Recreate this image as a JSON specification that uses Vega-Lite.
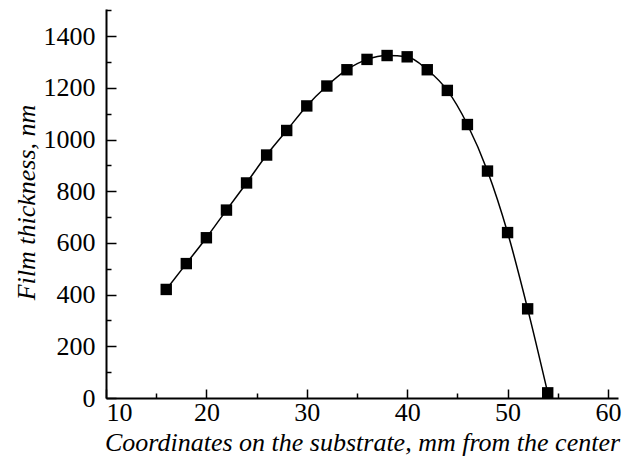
{
  "$schema": "https://vega.github.io/schema/vega-lite/v6.json",
  "width": 512,
  "height": 389,
  "autosize": {"type": "none"},
  "padding": {"left": 106, "top": 9, "right": 21, "bottom": 65},
  "background": "white",
  "config": {
    "view": {"stroke": null},
    "font": "Liberation Serif",
    "axis": {"grid": false, "domainColor": "black", "tickColor": "black", "labelColor": "black", "titleColor": "black", "domainWidth": 2, "tickWidth": 1.5}
  },
  "data": {"values": [
    {"x": 16, "y": 420}, {"x": 18, "y": 520}, {"x": 20, "y": 620}, {"x": 22, "y": 727},
    {"x": 24, "y": 832}, {"x": 26, "y": 940}, {"x": 28, "y": 1035}, {"x": 30, "y": 1130},
    {"x": 32, "y": 1207}, {"x": 34, "y": 1270}, {"x": 36, "y": 1310}, {"x": 38, "y": 1325},
    {"x": 40, "y": 1320}, {"x": 42, "y": 1270}, {"x": 44, "y": 1190}, {"x": 46, "y": 1058},
    {"x": 48, "y": 878}, {"x": 50, "y": 640}, {"x": 52, "y": 345}, {"x": 54, "y": 20}
  ]},
  "resolve": {"axis": {"x": "independent", "y": "independent"}},
  "layer": [
    {
      "mark": {"type": "line", "color": "black", "strokeWidth": 1.5, "interpolate": "monotone"},
      "encoding": {
        "x": {"field": "x", "type": "quantitative", "scale": {"domain": [10, 61], "nice": false},
          "axis": {"values": [10, 20, 30, 40, 50, 60], "format": "d", "tickSize": -9, "labelPadding": 10,
            "labelFont": "Liberation Serif", "labelFontSize": 26, "titleFont": "Liberation Serif", "titleFontSize": 26, "titleFontWeight": "normal", "titleFontStyle": "italic",
            "title": "Coordinates on the substrate, mm from the center", "titlePadding": 4, "titleX": 256}},
        "y": {"field": "y", "type": "quantitative", "scale": {"domain": [0, 1505], "nice": false},
          "axis": {"values": [0, 200, 400, 600, 800, 1000, 1200, 1400], "format": "d", "tickSize": -10, "labelPadding": 21,
            "labelFont": "Liberation Serif", "labelFontSize": 26, "titleFont": "Liberation Serif", "titleFontSize": 26, "titleFontWeight": "normal", "titleFontStyle": "italic",
            "title": "Film thickness, nm", "titlePadding": 4, "titleY": 193}}
      }
    },
    {
      "mark": {"type": "point", "shape": "square", "filled": true, "color": "black", "size": 130, "opacity": 1},
      "encoding": {
        "x": {"field": "x", "type": "quantitative",
          "axis": {"values": [15, 25, 35, 45, 55], "tickSize": -5, "labels": false, "domain": false, "title": null, "orient": "bottom"}},
        "y": {"field": "y", "type": "quantitative",
          "axis": {"values": [100, 300, 500, 700, 900, 1100, 1300, 1500], "tickSize": -5, "labels": false, "domain": false, "title": null, "orient": "left"}}
      }
    }
  ]
}
